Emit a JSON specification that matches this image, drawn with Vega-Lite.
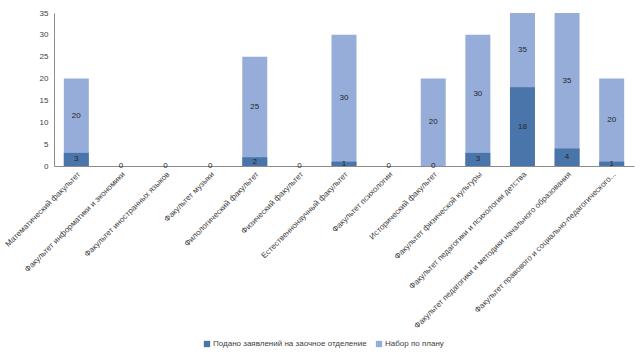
{
  "$schema": "https://vega.github.io/schema/vega-lite/v6.json",
  "autosize": "none",
  "width": 580,
  "height": 153,
  "padding": {"left": 54, "top": 13, "right": 6, "bottom": 194},
  "background": "white",
  "config": {
    "view": {"stroke": null},
    "font": "Liberation Sans",
    "axis": {"labelFont": "Liberation Sans", "labelFontSize": 8, "labelColor": "#404040", "grid": false, "ticks": false, "domain": true, "domainColor": "#8c8c8c", "title": null},
    "axisY": {"labelOverlap": false, "tickCount": 8, "labelPadding": 6},
    "legend": {"labelFont": "Liberation Sans", "labelFontSize": 8, "labelColor": "#404040"}
  },
  "data": {
    "values": [
      {"f": "Математический факультет", "apps": 3, "plan": 20},
      {"f": "Факультет информатики  и экономики", "apps": 0, "plan": 0},
      {"f": "Факультет иностранных языков", "apps": 0, "plan": 0},
      {"f": "Факультет музыки", "apps": 0, "plan": 0},
      {"f": "Филологический факультет", "apps": 2, "plan": 25},
      {"f": "Физический факультет", "apps": 0, "plan": 0},
      {"f": "Естественнонаучный факультет", "apps": 1, "plan": 30},
      {"f": "Факультет психологии", "apps": 0, "plan": 0},
      {"f": "Исторический факультет", "apps": 0, "plan": 20},
      {"f": "Факультет физической культуры", "apps": 3, "plan": 30},
      {"f": "Факультет педагогики и психологии детства", "apps": 18, "plan": 35},
      {"f": "Факультет педагогики и методики начального образования", "apps": 4, "plan": 35},
      {"f": "Факультет правового и социально-педагогического...", "apps": 1, "plan": 20}
    ]
  },
  "transform": [
    {"calculate": "(datum.apps + datum.plan) / 2", "as": "planMid"},
    {"calculate": "datum.apps / 2", "as": "appsMid"}
  ],
  "encoding": {
    "x": {
      "field": "f", "type": "nominal", "sort": null,
      "scale": {"paddingInner": 0.44, "paddingOuter": 0.22},
      "axis": {"labelAngle": -45, "labelAlign": "right", "labelBaseline": "middle", "labelPadding": 7, "labelOffset": 3, "labelLimit": 300, "labelOverlap": false}
    }
  },
  "layer": [
    {
      "mark": {"type": "bar"},
      "encoding": {
        "y": {"field": "plan", "type": "quantitative", "scale": {"domain": [0, 35], "nice": false}, "axis": {"values": [0, 5, 10, 15, 20, 25, 30, 35]}},
        "color": {"datum": "Набор по плану", "type": "nominal",
          "scale": {"domain": ["Подано заявлений на заочное отделение", "Набор по плану"], "range": ["#4A75AB", "#95ADD8"]},
          "legend": {"orient": "none", "legendX": 149, "legendY": 327, "direction": "horizontal", "title": null, "symbolType": "square", "symbolSize": 40, "symbolStrokeWidth": 0, "columnPadding": 8, "labelOffset": 2}}
      }
    },
    {
      "mark": {"type": "bar"},
      "encoding": {
        "y": {"field": "apps", "type": "quantitative", "axis": {"values": [0, 5, 10, 15, 20, 25, 30, 35]}},
        "color": {"datum": "Подано заявлений на заочное отделение", "type": "nominal"}
      }
    },
    {
      "transform": [{"filter": "datum.plan > 0"}],
      "mark": {"type": "text", "fontSize": 8, "color": "#262626", "baseline": "middle"},
      "encoding": {
        "y": {"field": "planMid", "type": "quantitative", "axis": {"values": [0, 5, 10, 15, 20, 25, 30, 35]}},
        "text": {"field": "plan", "type": "quantitative"}
      }
    },
    {
      "mark": {"type": "text", "fontSize": 8, "color": "#262626", "baseline": "middle"},
      "encoding": {
        "y": {"field": "appsMid", "type": "quantitative", "axis": {"values": [0, 5, 10, 15, 20, 25, 30, 35]}},
        "text": {"field": "apps", "type": "quantitative"}
      }
    }
  ]
}
